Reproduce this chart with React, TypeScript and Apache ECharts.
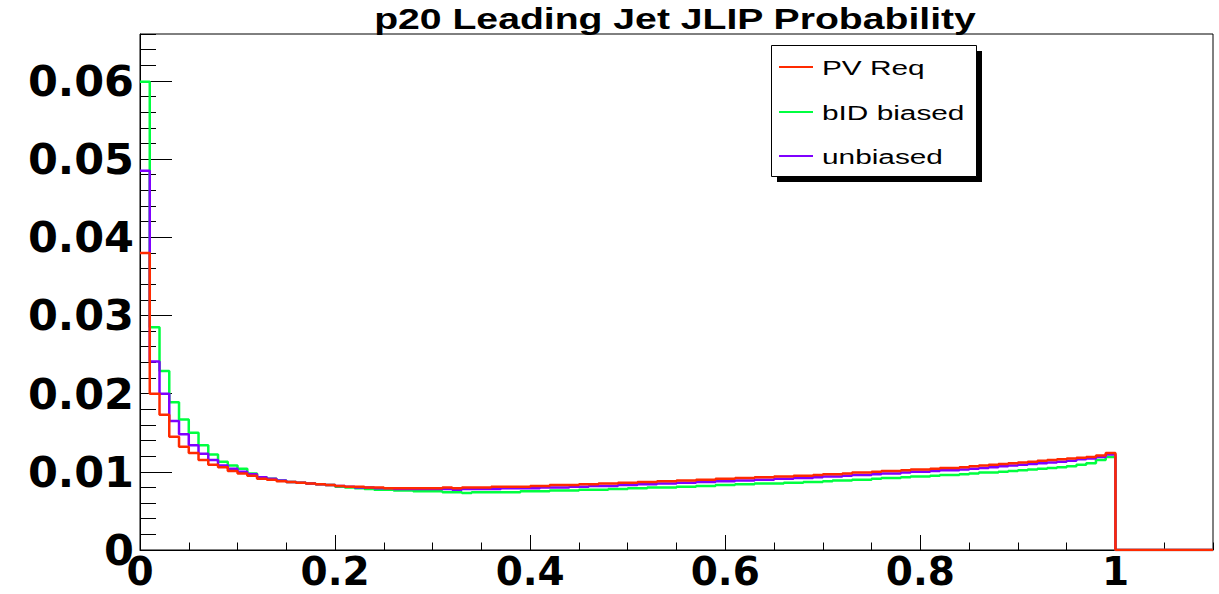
import React, { useEffect, useRef } from "react";
import * as echarts from "echarts";

const TITLE = "p20 Leading Jet JLIP Probability";
const SERIES_NAMES = ["PV Req", "bID biased", "unbiased"];
const COLORS = ["#ff2a00", "#00ff40", "#7f00ff"];
const BIN_WIDTH = 0.01;
const X_MAX = 1.1;
const Y_MAX = 0.066;

// Bin contents, bins of width 0.01 from 0 to 1
const pvReq = [
  0.0380, 0.0200, 0.0173, 0.0145, 0.0132, 0.0124, 0.0115, 0.0109, 0.0106, 0.0101,
  0.0098, 0.0095, 0.0091, 0.0090, 0.0088, 0.0087, 0.0086, 0.0085, 0.0084, 0.0083,
  0.0082, 0.0081, 0.0081, 0.0080, 0.0080, 0.0079, 0.0079, 0.0079, 0.0079, 0.0079,
  0.0079, 0.0080, 0.0079, 0.0080, 0.0080, 0.0080, 0.0081, 0.0081, 0.0081, 0.0081,
  0.0082, 0.0082, 0.0083, 0.0083, 0.0083, 0.0084, 0.0084, 0.0085, 0.0085, 0.0086,
  0.0086, 0.0087, 0.0087, 0.0088, 0.0088, 0.0089, 0.0089, 0.0090, 0.0090, 0.0091,
  0.0091, 0.0092, 0.0092, 0.0093, 0.0093, 0.0094, 0.0094, 0.0095, 0.0095, 0.0096,
  0.0097, 0.0097, 0.0098, 0.0099, 0.0099, 0.0100, 0.0101, 0.0101, 0.0102, 0.0103,
  0.0103, 0.0104, 0.0105, 0.0105, 0.0106, 0.0107, 0.0108, 0.0109, 0.0110, 0.0111,
  0.0112, 0.0113, 0.0114, 0.0115, 0.0116, 0.0117, 0.0118, 0.0119, 0.0121, 0.0124,
];

const bidBiased = [
  0.0599, 0.0285, 0.0229, 0.0189, 0.0167, 0.0150, 0.0134, 0.0122, 0.0113, 0.0108,
  0.0104, 0.0098, 0.0093, 0.0091, 0.0089, 0.0087, 0.0086, 0.0085, 0.0084, 0.0083,
  0.0081, 0.0080, 0.0079, 0.0078, 0.0077, 0.0077, 0.0076, 0.0076, 0.0075, 0.0075,
  0.0075, 0.0074, 0.0074, 0.0073, 0.0074, 0.0074, 0.0074, 0.0074, 0.0074, 0.0075,
  0.0075, 0.0075, 0.0076, 0.0076, 0.0076, 0.0077, 0.0077, 0.0077, 0.0078, 0.0078,
  0.0079, 0.0079, 0.0080, 0.0080, 0.0080, 0.0081, 0.0081, 0.0082, 0.0082, 0.0083,
  0.0083, 0.0084, 0.0084, 0.0085, 0.0085, 0.0085, 0.0086, 0.0086, 0.0087, 0.0087,
  0.0088, 0.0089, 0.0089, 0.0090, 0.0090, 0.0091, 0.0092, 0.0092, 0.0093, 0.0094,
  0.0094, 0.0095, 0.0096, 0.0096, 0.0097, 0.0098, 0.0099, 0.0099, 0.0100, 0.0101,
  0.0102, 0.0103, 0.0104, 0.0105, 0.0106, 0.0107, 0.0109, 0.0111, 0.0115, 0.0119,
];

const unbiased = [
  0.0485, 0.0241, 0.0200, 0.0165, 0.0148, 0.0134, 0.0123, 0.0115, 0.0108, 0.0104,
  0.0100, 0.0097, 0.0093, 0.0091, 0.0089, 0.0087, 0.0086, 0.0085, 0.0084, 0.0083,
  0.0082, 0.0081, 0.0080, 0.0080, 0.0079, 0.0079, 0.0078, 0.0078, 0.0078, 0.0078,
  0.0078, 0.0078, 0.0077, 0.0078, 0.0078, 0.0078, 0.0078, 0.0079, 0.0079, 0.0079,
  0.0079, 0.0080, 0.0080, 0.0080, 0.0081, 0.0081, 0.0082, 0.0082, 0.0082, 0.0083,
  0.0083, 0.0084, 0.0084, 0.0085, 0.0085, 0.0086, 0.0086, 0.0087, 0.0087, 0.0088,
  0.0088, 0.0089, 0.0089, 0.0090, 0.0090, 0.0091, 0.0091, 0.0092, 0.0092, 0.0093,
  0.0094, 0.0094, 0.0095, 0.0096, 0.0096, 0.0097, 0.0098, 0.0098, 0.0099, 0.0100,
  0.0100, 0.0101, 0.0102, 0.0102, 0.0103, 0.0104, 0.0105, 0.0106, 0.0107, 0.0108,
  0.0109, 0.0110, 0.0111, 0.0112, 0.0113, 0.0114, 0.0116, 0.0117, 0.0119, 0.0122,
];

function histPoints(values: number[]): number[][] {
  const pts: number[][] = values.map((v, i) => [Number((i * BIN_WIDTH).toFixed(2)), v]);
  const end = Number((values.length * BIN_WIDTH).toFixed(2));
  pts.push([end, 0]);
  pts.push([X_MAX, 0]);
  return pts;
}

export default function App() {
  const ref = useRef<HTMLDivElement>(null);
  useEffect(() => {
    if (!ref.current) return;
    const chart = echarts.init(ref.current, null, { renderer: "svg" });
    const dataSets = [pvReq, bidBiased, unbiased];
    const drawOrder = [1, 2, 0];
    const legendYs = [67, 112, 156];
    const labelFont = '"DejaVu Sans", sans-serif';

    const series = drawOrder.map((k) => ({
      name: SERIES_NAMES[k],
      type: "line",
      step: "end",
      xAxisIndex: 0,
      yAxisIndex: 0,
      symbol: "none",
      data: histPoints(dataSets[k]),
      lineStyle: { color: COLORS[k], width: 2.5 },
      itemStyle: { color: COLORS[k] },
      z: 3,
    }));

    const legendChildren: any[] = [
      { type: "rect", shape: { x: 777, y: 51, width: 205, height: 131 }, style: { fill: "#000" } },
      {
        type: "rect",
        shape: { x: 771.5, y: 45.5, width: 205, height: 131 },
        style: { fill: "#fff", stroke: "#000", lineWidth: 1 },
      },
    ];
    SERIES_NAMES.forEach((name, k) => {
      legendChildren.push({
        type: "line",
        shape: { x1: 779, y1: legendYs[k], x2: 813, y2: legendYs[k] },
        style: { stroke: COLORS[k], lineWidth: 2 },
      });
      legendChildren.push({
        type: "text",
        x: 822,
        y: legendYs[k] + 1,
        scaleX: 1.42,
        style: {
          text: name,
          fontSize: 21,
          fontFamily: '"Liberation Sans", Arial, sans-serif',
          fill: "#000",
          textAlign: "left",
          textVerticalAlign: "middle",
        },
      });
    });

    chart.setOption({
      animation: false,
      backgroundColor: "#fff",
      grid: {
        left: 140,
        right: 6,
        top: 34,
        bottom: 44,
        outerBoundsMode: "none",
        containLabel: false,
        show: true,
        borderColor: "#000",
        borderWidth: 1,
        backgroundColor: "transparent",
      },
      xAxis: [
        {
          type: "value",
          min: 0,
          max: X_MAX,
          interval: 0.2,
          axisLine: { show: true, lineStyle: { color: "#000", width: 1 } },
          axisTick: { show: true, inside: true, length: 15, lineStyle: { color: "#000" } },
          splitLine: { show: false },
          axisLabel: {
            show: true,
            showMaxLabel: false,
            margin: 6,
            lineHeight: 30,
            color: "#000",
            fontSize: 39,
            fontWeight: "bold",
            fontFamily: labelFont,
          },
        },
        {
          type: "value",
          min: 0,
          max: X_MAX,
          interval: 0.05,
          position: "bottom",
          axisLine: { show: false },
          axisTick: { show: true, inside: true, length: 7.5, lineStyle: { color: "#000" } },
          splitLine: { show: false },
          axisLabel: { show: false },
        },
      ],
      yAxis: [
        {
          type: "value",
          min: 0,
          max: Y_MAX,
          interval: 0.01,
          axisLine: { show: true, lineStyle: { color: "#000", width: 1 } },
          axisTick: { show: true, inside: true, length: 32, lineStyle: { color: "#000" } },
          splitLine: { show: false },
          axisLabel: {
            show: true,
            showMaxLabel: false,
            margin: 6,
            lineHeight: 26,
            color: "#000",
            fontSize: 43,
            fontWeight: "bold",
            fontFamily: labelFont,
          },
        },
        {
          type: "value",
          min: 0,
          max: Y_MAX,
          interval: 0.002,
          position: "left",
          axisLine: { show: false },
          axisTick: { show: true, inside: true, length: 16, lineStyle: { color: "#000" } },
          splitLine: { show: false },
          axisLabel: { show: false },
        },
      ],
      series,
      graphic: [
        {
          type: "text",
          x: 675,
          y: 19,
          scaleX: 1.35,
          style: {
            text: TITLE,
            fontSize: 29,
            fontWeight: "bold",
            fontFamily: '"Liberation Sans", Arial, sans-serif',
            fill: "#000",
            textAlign: "center",
            textVerticalAlign: "middle",
          },
        },
        { type: "group", children: legendChildren, z: 100 },
      ],
    });
    return () => chart.dispose();
  }, []);

  return (
    <div
      ref={ref}
      style={{ position: "fixed", left: 0, top: 0, width: 1219, height: 594, background: "#fff" }}
    />
  );
}
